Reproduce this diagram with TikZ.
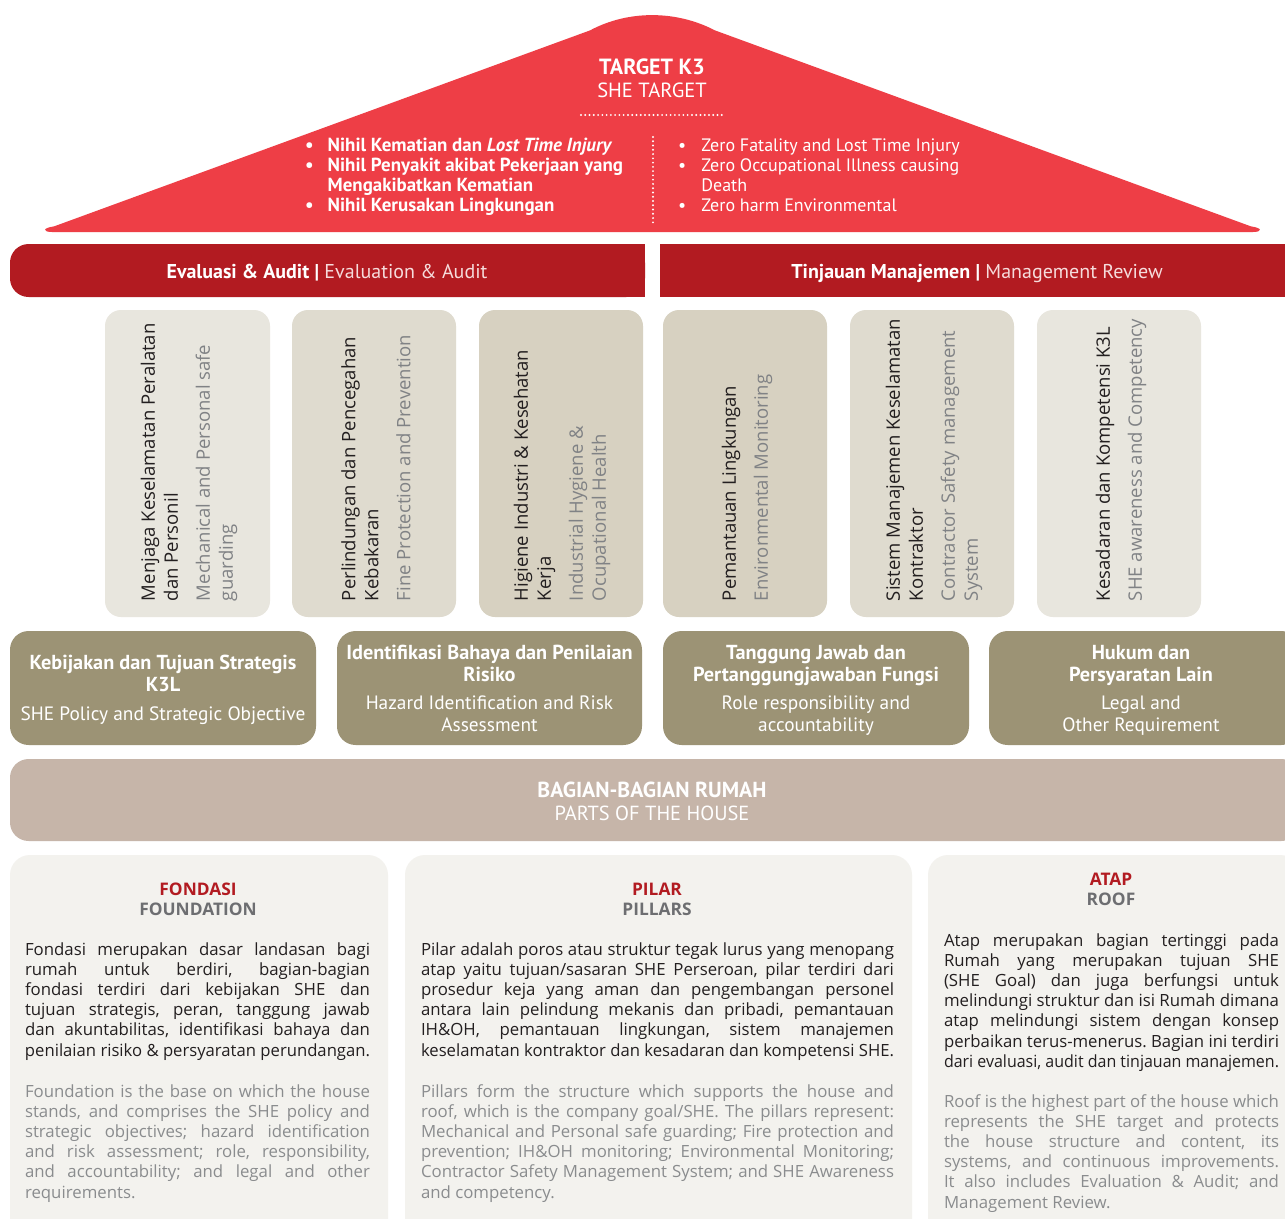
\documentclass[tikz,border=0pt]{standalone}
\usepackage{fontspec}
\usepackage{graphicx}
\setmainfont{Open Sans}
\newfontfamily\cond{PT Sans}
\definecolor{roofred}{HTML}{EE3E46}
\definecolor{barred}{HTML}{B21B21}
\definecolor{barlight}{HTML}{F6DCDC}
\definecolor{pilA}{HTML}{E8E6DE}
\definecolor{pilB}{HTML}{DFDBCF}
\definecolor{pilC}{HTML}{D7D1C1}
\definecolor{found}{HTML}{9C9375}
\definecolor{band}{HTML}{C6B5A9}
\definecolor{panel}{HTML}{F3F2EE}
\definecolor{ink}{HTML}{231F20}
\definecolor{pgray}{HTML}{808285}
\definecolor{egray}{HTML}{8A8C8E}
\definecolor{hgray}{HTML}{6D6E71}
\newsavebox\lnbox
\newcommand\jl[1]{\sbox\lnbox{#1}\ifdim\wd\lnbox>\linewidth\resizebox{\linewidth}{\height}{\usebox\lnbox}\else\makebox[\linewidth][s]{#1}\fi\par}
\newcommand\lastl[1]{\sbox\lnbox{#1}\ifdim\wd\lnbox>\linewidth\resizebox{\linewidth}{\height}{\usebox\lnbox}\else\usebox\lnbox\fi\par}
\newcommand\bodypar[2]{\parbox[t]{#1}{\frenchspacing\parindent=0pt\fontsize{12.6pt}{15.15pt}\selectfont #2}}
\newcommand\cpar[1]{\parbox[t]{228pt}{\centering #1}}
\begin{document}
\begin{tikzpicture}[x=0.75pt,y=-0.75pt,
  every node/.style={inner sep=0pt, outer sep=0pt},
  rooftitle/.style={font=\cond\fontsize{15.4pt}{18pt}\selectfont, text=white, anchor=base},
  roofbullet/.style={font=\cond\fontsize{13.5pt}{15pt}\selectfont, text=white, anchor=base west},
  bartext/.style={font=\cond\fontsize{15pt}{18pt}\selectfont, text=white, anchor=base},
  ptext/.style={font=\fontsize{13.9pt}{17.25pt}\selectfont, text=ink, rotate=90, anchor=west, align=left},
  fbold/.style={font=\cond\bfseries\fontsize{15.2pt}{16.5pt}\selectfont, text=white, anchor=base},
  freg/.style={font=\cond\fontsize{14.5pt}{16.5pt}\selectfont, text=white, anchor=base},
  bandtext/.style={font=\cond\fontsize{15.3pt}{17pt}\selectfont, text=white, anchor=base},
  headred/.style={font=\bfseries\fontsize{13pt}{14pt}\selectfont, text=barred, anchor=base},
  headgray/.style={font=\bfseries\fontsize{13pt}{14pt}\selectfont, text=hgray, anchor=base},
  bodyid/.style={text=ink, anchor=base west},
  bodyen/.style={text=egray, anchor=base west},
  dots/.style={white, line width=1.6pt, line cap=round, dash pattern=on 0pt off 3.2pt}
]
\clip (0,0) rectangle (1285,1218);
\fill[white] (0,0) rectangle (1285,1218);

% roof
\fill[roofred] (52,232) .. controls (43,232) and (42,228) .. (54,226.4) -- (590,30.4) .. controls (628,10) and (676,10) .. (715,30.4) -- (1251,226.4) .. controls (1263,228) and (1262,232) .. (1253,232) -- cycle;
\node[rooftitle, font=\cond\bfseries\fontsize{16.5pt}{18pt}\selectfont] (tk3) at (652,74) {TARGET K3};
\node[rooftitle] (tshe) at (652,97) {SHE TARGET};
\coordinate (hdL) at (581,115);
\coordinate (hdR) at (723,115);
\draw[dots] (hdL) -- (hdR);
\coordinate (vdT) at (653,137);
\coordinate (vdB) at (653,223);
\draw[dots] (vdT) -- (vdB);
\node[roofbullet, font=\cond\bfseries\fontsize{14.2pt}{15pt}\selectfont] (bl) at (305,151) {%
  \renewcommand\arraystretch{1}\begin{tabular}[t]{@{}p{17pt}@{}l@{}}
  \textbullet & Nihil Kematian dan \textit{Lost Time Injury}\\
  \textbullet & Nihil Penyakit akibat Pekerjaan yang\\
   & Mengakibatkan Kematian\\
  \textbullet & Nihil Kerusakan Lingkungan
  \end{tabular}};
\node[roofbullet] (br) at (678,151) {%
  \renewcommand\arraystretch{1}\begin{tabular}[t]{@{}p{17.5pt}@{}l@{}}
  \textbullet & Zero Fatality and Lost Time Injury\\
  \textbullet & Zero Occupational Illness causing\\
   & Death\\
  \textbullet & Zero harm Environmental
  \end{tabular}};

% bars
\fill[barred, rounded corners=14] (10,244) rectangle (645,297);
\fill[barred] (300,244) rectangle (645,297);
\fill[barred] (660,244) rectangle (1300,297);
\node[bartext] (evl) at (327,278) {\textbf{Evaluasi \& Audit} \textbf{|} \textcolor{barlight}{Evaluation \& Audit}};
\node[bartext] (tnj) at (977,278) {\textbf{Tinjauan Manajemen} \textbf{|} \textcolor{barlight}{Management Review}};

% pillars
\fill[pilA, rounded corners=12] (105,310) rectangle (270,617);
\fill[pilB, rounded corners=12] (292,310) rectangle (456,617);
\fill[pilC, rounded corners=12] (479,310) rectangle (643,617);
\fill[pilC, rounded corners=12] (663,310) rectangle (827,617);
\fill[pilB, rounded corners=12] (850,310) rectangle (1014,617);
\fill[pilA, rounded corners=12] (1037,310) rectangle (1201,617);
\node[ptext] (p1) at (189,601) {Menjaga Keselamatan Peralatan\\dan Personil\\[6.75pt]\textcolor{pgray}{Mechanical and Personal safe}\\\textcolor{pgray}{guarding}};
\node[ptext] (p2) at (376,601) {Perlindungan dan Pencegahan\\Kebakaran\\[6.75pt]\textcolor{pgray}{Fine Protection and Prevention}};
\node[ptext] (p3) at (562,601) {Higiene Industri \& Kesehatan\\Kerja\\[6.75pt]\textcolor{pgray}{Industrial Hygiene \&}\\\textcolor{pgray}{Ocupational Health}};
\node[ptext] (p4) at (747,601) {Pemantauan Lingkungan\\[6.75pt]\textcolor{pgray}{Environmental Monitoring}};
\node[ptext] (p5) at (934,601) {Sistem Manajemen Keselamatan\\Kontraktor\\[6.75pt]\textcolor{pgray}{Contractor Safety management}\\\textcolor{pgray}{System}};
\node[ptext] (p6) at (1121,601) {Kesadaran dan Kompetensi K3L\\[6.75pt]\textcolor{pgray}{SHE awareness and Competency}};

% foundation boxes
\fill[found, rounded corners=14] (10,631) rectangle (316,745);
\fill[found, rounded corners=14] (337,631) rectangle (642,745);
\fill[found, rounded corners=14] (663,631) rectangle (969,745);
\fill[found, rounded corners=14] (989,631) rectangle (1300,745);
\node[fbold] (f1a) at (163,669) {\cpar{Kebijakan dan Tujuan Strategis\\K3L}};
\node[freg] (f1b) at (163,720) {\cpar{SHE Policy and Strategic Objective}};
\node[fbold] (f2a) at (489.5,659) {\cpar{Identifikasi Bahaya dan Penilaian\\Risiko}};
\node[freg] (f2b) at (489.5,709) {\cpar{Hazard Identification and Risk\\Assessment}};
\node[fbold] (f3a) at (816,659) {\cpar{Tanggung Jawab dan\\Pertanggungjawaban Fungsi}};
\node[freg] (f3b) at (816,709) {\cpar{Role responsibility and\\accountability}};
\node[fbold] (f4a) at (1141,659) {\cpar{Hukum dan\\Persyaratan Lain}};
\node[freg] (f4b) at (1141,709) {\cpar{Legal and\\Other Requirement}};

% band
\fill[band, rounded corners=14] (10,759) rectangle (1300,841);
\node[bandtext, font=\cond\bfseries\fontsize{16.3pt}{17pt}\selectfont] (bd1) at (652,797) {BAGIAN-BAGIAN RUMAH};
\node[bandtext] (bd2) at (652,820) {PARTS OF THE HOUSE};

% bottom panels
\fill[panel, rounded corners=15] (10,855) rectangle (388,1240);
\fill[panel, rounded corners=15] (405,855) rectangle (912,1240);
\fill[panel, rounded corners=15] (928,855) rectangle (1300,1240);

\node[headred] (h1a) at (198,895) {FONDASI};
\node[headgray] (h1b) at (198,915) {FOUNDATION};
\node[headred] (h2a) at (657,895) {PILAR};
\node[headgray] (h2b) at (657,915) {PILLARS};
\node[headred] (h3a) at (1111,885) {ATAP};
\node[headgray] (h3b) at (1111,905) {ROOF};

\node[bodyid] (b1id) at (25,955) {\bodypar{258.75pt}{%
\jl{Fondasi merupakan dasar landasan bagi}
\jl{rumah untuk berdiri, bagian-bagian}
\jl{fondasi terdiri dari kebijakan SHE dan}
\jl{tujuan strategis, peran, tanggung jawab}
\jl{dan akuntabilitas, identifikasi bahaya dan}
\lastl{penilaian risiko \& persyaratan perundangan.}}};
\node[bodyen] (b1en) at (25,1097) {\bodypar{258.75pt}{%
\jl{Foundation is the base on which the house}
\jl{stands, and comprises the SHE policy and}
\jl{strategic objectives; hazard identification}
\jl{and risk assessment; role, responsibility,}
\jl{and accountability; and legal and other}
\lastl{requirements.}}};

\node[bodyid] (b2id) at (421,955) {\bodypar{354.75pt}{%
\jl{Pilar adalah poros atau struktur tegak lurus yang menopang}
\jl{atap yaitu tujuan/sasaran SHE Perseroan, pilar terdiri dari}
\jl{prosedur keja yang aman dan pengembangan personel}
\jl{antara lain pelindung mekanis dan pribadi, pemantauan}
\jl{IH\&OH, pemantauan lingkungan, sistem manajemen}
\lastl{keselamatan kontraktor dan kesadaran dan kompetensi SHE.}}};
\node[bodyen] (b2en) at (421,1097) {\bodypar{354.75pt}{%
\jl{Pillars form the structure which supports the house and}
\jl{roof, which is the company goal/SHE. The pillars represent:}
\jl{Mechanical and Personal safe guarding; Fire protection and}
\jl{prevention; IH\&OH monitoring; Environmental Monitoring;}
\jl{Contractor Safety Management System; and SHE Awareness}
\lastl{and competency.}}};

\node[bodyid] (b3id) at (944,946) {\bodypar{251.25pt}{%
\jl{Atap merupakan bagian tertinggi pada}
\jl{Rumah yang merupakan tujuan SHE}
\jl{(SHE Goal) dan juga berfungsi untuk}
\jl{melindungi struktur dan isi Rumah dimana}
\jl{atap melindungi sistem dengan konsep}
\jl{perbaikan terus-menerus. Bagian ini terdiri}
\lastl{dari evaluasi, audit dan tinjauan manajemen.}}};
\node[bodyen] (b3en) at (944,1107) {\bodypar{251.25pt}{%
\jl{Roof is the highest part of the house which}
\jl{represents the SHE target and protects}
\jl{the house structure and content, its}
\jl{systems, and continuous improvements.}
\jl{It also includes Evaluation \& Audit; and}
\lastl{Management Review.}}};
\end{tikzpicture}
\end{document}
